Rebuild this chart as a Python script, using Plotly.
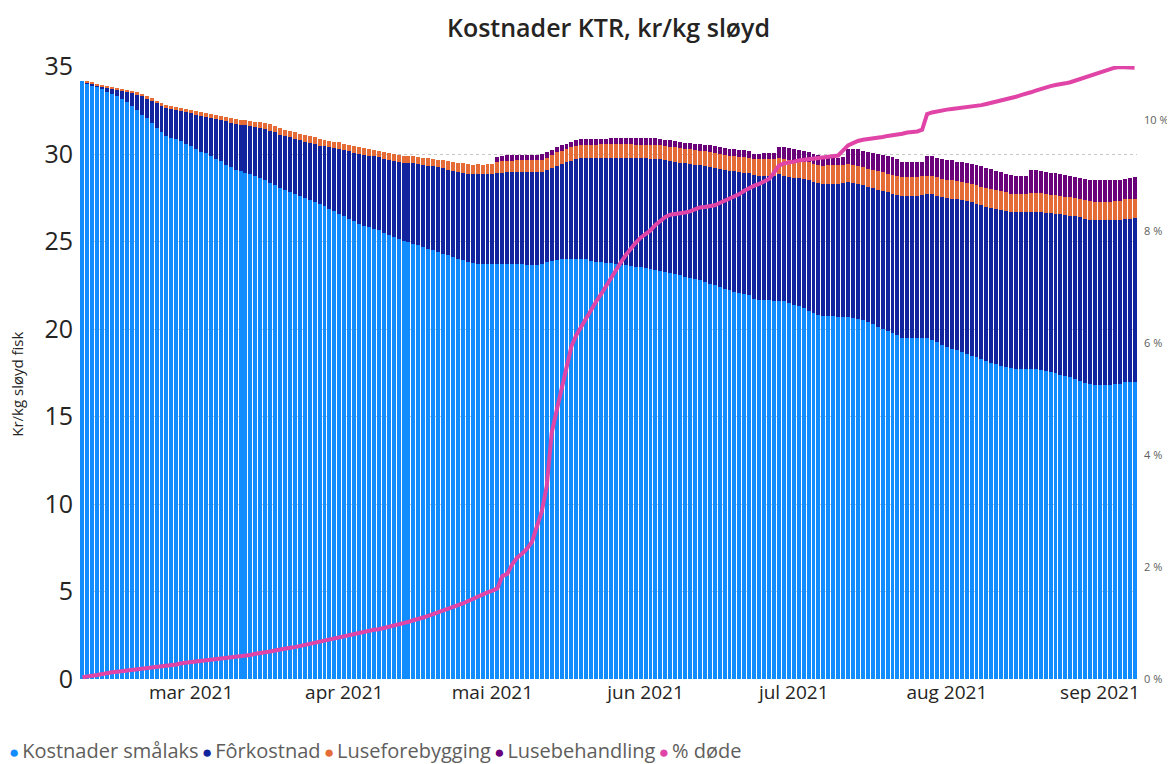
import pandas as pd
import plotly.graph_objects as go

start_date = "2021-02-07"
n_days = 214
dates = pd.date_range(start_date, periods=n_days, freq="D")

kostnader_smalaks = [
    34.20, 34.05, 33.95, 33.85, 33.70, 33.55, 33.45, 33.30, 33.15, 33.00,
    32.75, 32.50, 32.25, 32.05, 31.80, 31.50, 31.25, 31.05, 30.95, 30.85,
    30.75, 30.60, 30.45, 30.30, 30.15, 30.05, 29.90, 29.75, 29.60, 29.40,
    29.25, 29.10, 29.02, 28.95, 28.85, 28.75, 28.65, 28.50, 28.38, 28.22,
    28.05, 27.95, 27.85, 27.75, 27.63, 27.52, 27.40, 27.28, 27.16, 27.02,
    26.88, 26.74, 26.59, 26.45, 26.30, 26.16, 26.02, 25.92, 25.83, 25.74,
    25.64, 25.52, 25.40, 25.28, 25.16, 25.06, 24.97, 24.88, 24.78, 24.68,
    24.59, 24.50, 24.40, 24.30, 24.21, 24.12, 24.02, 23.93, 23.85, 23.77,
    23.72, 23.72, 23.71, 23.72, 23.74, 23.74, 23.73, 23.72, 23.70, 23.70,
    23.69, 23.68, 23.68, 23.70, 23.82, 23.92, 23.96, 24.00, 24.02, 24.03,
    24.02, 24.00, 23.98, 23.92, 23.86, 23.82, 23.80, 23.78, 23.74, 23.69,
    23.65, 23.61, 23.57, 23.54, 23.50, 23.45, 23.40, 23.35, 23.28, 23.21,
    23.14, 23.07, 23.00, 22.93, 22.86, 22.78, 22.68, 22.59, 22.50, 22.40,
    22.32, 22.23, 22.14, 22.06, 21.99, 21.93, 21.70, 21.65, 21.64, 21.64,
    21.63, 21.62, 21.58, 21.48, 21.39, 21.30, 21.18, 21.06, 20.92, 20.80,
    20.74, 20.73, 20.73, 20.72, 20.72, 20.70, 20.64, 20.59, 20.50, 20.41,
    20.27, 20.14, 20.02, 19.91, 19.78, 19.66, 19.52, 19.50, 19.50, 19.50,
    19.49, 19.48, 19.38, 19.27, 19.12, 18.98, 18.88, 18.79, 18.68, 18.57,
    18.47, 18.38, 18.28, 18.18, 18.09, 18.00, 17.90, 17.81, 17.75, 17.74,
    17.74, 17.74, 17.73, 17.72, 17.67, 17.61, 17.54, 17.47, 17.40, 17.32,
    17.24, 17.14, 17.04, 16.94, 16.85, 16.83, 16.83, 16.83, 16.83, 16.84,
    16.85, 16.97, 16.98, 16.99,
]

forkostnad = [
    0.00, 0.05, 0.07, 0.10, 0.18, 0.27, 0.31, 0.40, 0.48, 0.57,
    0.75, 0.90, 1.05, 1.13, 1.25, 1.40, 1.53, 1.61, 1.62, 1.65,
    1.69, 1.79, 1.88, 1.96, 2.04, 2.07, 2.16, 2.25, 2.34, 2.47,
    2.54, 2.64, 2.67, 2.69, 2.74, 2.79, 2.84, 2.92, 2.97, 3.03,
    3.05, 3.08, 3.12, 3.13, 3.17, 3.20, 3.24, 3.29, 3.33, 3.42,
    3.51, 3.60, 3.71, 3.78, 3.86, 3.93, 4.00, 4.05, 4.09, 4.13,
    4.18, 4.23, 4.28, 4.33, 4.38, 4.46, 4.52, 4.59, 4.66, 4.71,
    4.75, 4.80, 4.85, 4.89, 4.91, 4.94, 4.98, 5.01, 5.03, 5.10,
    5.15, 5.14, 5.16, 5.15, 5.16, 5.21, 5.24, 5.25, 5.28, 5.28,
    5.29, 5.30, 5.31, 5.30, 5.28, 5.30, 5.39, 5.45, 5.52, 5.60,
    5.70, 5.76, 5.79, 5.85, 5.92, 5.96, 5.99, 6.01, 6.05, 6.09,
    6.13, 6.17, 6.20, 6.23, 6.26, 6.30, 6.33, 6.35, 6.38, 6.41,
    6.43, 6.45, 6.48, 6.51, 6.54, 6.58, 6.65, 6.70, 6.73, 6.77,
    6.79, 6.83, 6.88, 6.92, 6.95, 6.97, 7.10, 7.13, 7.14, 7.13,
    7.15, 7.22, 7.20, 7.22, 7.26, 7.31, 7.39, 7.46, 7.50, 7.53,
    7.56, 7.57, 7.57, 7.59, 7.64, 7.70, 7.73, 7.73, 7.72, 7.71,
    7.77, 7.83, 7.88, 7.92, 7.97, 8.00, 8.11, 8.13, 8.13, 8.13,
    8.15, 8.25, 8.32, 8.35, 8.43, 8.52, 8.58, 8.62, 8.68, 8.73,
    8.77, 8.78, 8.80, 8.82, 8.85, 8.88, 8.92, 8.93, 8.94, 8.94,
    8.94, 8.94, 8.95, 8.96, 9.00, 9.03, 9.08, 9.13, 9.18, 9.22,
    9.25, 9.30, 9.35, 9.38, 9.39, 9.38, 9.38, 9.38, 9.38, 9.38,
    9.38, 9.32, 9.33, 9.34,
]

luseforebygging = [
    0.00, 0.03, 0.05, 0.06, 0.08, 0.09, 0.10, 0.11, 0.12, 0.12,
    0.13, 0.13, 0.14, 0.14, 0.15, 0.15, 0.16, 0.16, 0.17, 0.17,
    0.18, 0.18, 0.19, 0.20, 0.21, 0.22, 0.23, 0.24, 0.25, 0.26,
    0.27, 0.28, 0.29, 0.30, 0.31, 0.32, 0.33, 0.34, 0.35, 0.36,
    0.37, 0.37, 0.38, 0.38, 0.38, 0.38, 0.39, 0.39, 0.39, 0.39,
    0.38, 0.38, 0.38, 0.38, 0.38, 0.38, 0.38, 0.38, 0.38, 0.38,
    0.38, 0.39, 0.39, 0.39, 0.39, 0.40, 0.40, 0.40, 0.40, 0.41,
    0.42, 0.43, 0.44, 0.46, 0.48, 0.50, 0.52, 0.53, 0.53, 0.53,
    0.54, 0.54, 0.54, 0.55, 0.66, 0.66, 0.66, 0.66, 0.66, 0.66,
    0.66, 0.66, 0.66, 0.66, 0.68, 0.72, 0.75, 0.76, 0.76, 0.76,
    0.77, 0.77, 0.77, 0.77, 0.77, 0.78, 0.78, 0.78, 0.78, 0.78,
    0.78, 0.78, 0.78, 0.78, 0.79, 0.79, 0.79, 0.80, 0.80, 0.81,
    0.82, 0.83, 0.84, 0.85, 0.85, 0.85, 0.85, 0.85, 0.86, 0.86,
    0.86, 0.86, 0.87, 0.87, 0.88, 0.89, 0.93, 0.94, 0.95, 0.95,
    0.95, 0.96, 0.97, 0.98, 0.99, 1.00, 1.00, 1.01, 1.02, 1.04,
    1.05, 1.06, 1.06, 1.06, 1.04, 1.01, 1.00, 1.00, 1.02, 1.04,
    1.05, 1.06, 1.06, 1.06, 1.07, 1.08, 1.09, 1.09, 1.09, 1.09,
    1.09, 1.05, 1.05, 1.05, 1.05, 1.05, 1.05, 1.05, 1.05, 1.05,
    1.05, 1.05, 1.05, 1.06, 1.07, 1.08, 1.09, 1.07, 1.05, 1.05,
    1.05, 1.05, 1.09, 1.09, 1.09, 1.07, 1.06, 1.05, 1.04, 1.04,
    1.04, 1.04, 1.04, 1.05, 1.07, 1.08, 1.08, 1.08, 1.08, 1.08,
    1.10, 1.12, 1.13, 1.13,
]

lusebehandling = [
    0.00, 0.00, 0.00, 0.00, 0.00, 0.00, 0.00, 0.00, 0.00, 0.00,
    0.00, 0.00, 0.00, 0.00, 0.00, 0.00, 0.00, 0.00, 0.00, 0.00,
    0.00, 0.00, 0.00, 0.00, 0.00, 0.00, 0.00, 0.00, 0.00, 0.00,
    0.00, 0.00, 0.00, 0.00, 0.00, 0.00, 0.00, 0.00, 0.00, 0.00,
    0.00, 0.00, 0.00, 0.00, 0.00, 0.00, 0.00, 0.00, 0.00, 0.00,
    0.00, 0.00, 0.00, 0.00, 0.00, 0.00, 0.00, 0.00, 0.00, 0.00,
    0.00, 0.00, 0.00, 0.00, 0.00, 0.00, 0.00, 0.00, 0.00, 0.00,
    0.00, 0.00, 0.00, 0.00, 0.00, 0.00, 0.00, 0.00, 0.00, 0.00,
    0.00, 0.00, 0.00, 0.00, 0.30, 0.31, 0.33, 0.33, 0.33, 0.33,
    0.33, 0.33, 0.33, 0.33, 0.32, 0.31, 0.30, 0.30, 0.29, 0.30,
    0.31, 0.32, 0.32, 0.32, 0.32, 0.32, 0.32, 0.33, 0.34, 0.35,
    0.37, 0.38, 0.38, 0.38, 0.38, 0.38, 0.38, 0.38, 0.37, 0.37,
    0.36, 0.35, 0.34, 0.34, 0.35, 0.36, 0.37, 0.38, 0.38, 0.38,
    0.38, 0.38, 0.39, 0.40, 0.41, 0.41, 0.30, 0.30, 0.31, 0.32,
    0.32, 0.60, 0.66, 0.68, 0.66, 0.63, 0.60, 0.58, 0.58, 0.57,
    0.50, 0.46, 0.45, 0.44, 0.43, 0.90, 0.92, 0.95, 0.95, 0.95,
    0.97, 0.99, 0.99, 0.99, 1.00, 1.01, 0.86, 0.82, 0.82, 0.82,
    0.82, 1.14, 1.14, 1.14, 1.14, 1.13, 1.13, 1.12, 1.12, 1.13,
    1.14, 1.16, 1.18, 1.15, 1.12, 1.10, 1.08, 1.06, 1.05, 1.05,
    1.05, 1.05, 1.33, 1.31, 1.29, 1.28, 1.27, 1.26, 1.25, 1.24,
    1.22, 1.21, 1.20, 1.21, 1.21, 1.21, 1.21, 1.21, 1.21, 1.21,
    1.19, 1.15, 1.20, 1.24,
]

prosent_dode = [
    0.03, 0.05, 0.06, 0.07, 0.09, 0.10, 0.12, 0.13, 0.14, 0.15,
    0.16, 0.17, 0.18, 0.19, 0.20, 0.21, 0.22, 0.24, 0.25, 0.26,
    0.28, 0.29, 0.31, 0.32, 0.33, 0.34, 0.35, 0.36, 0.36, 0.37,
    0.38, 0.39, 0.40, 0.42, 0.43, 0.45, 0.46, 0.48, 0.49, 0.51,
    0.53, 0.54, 0.56, 0.57, 0.59, 0.61, 0.62, 0.64, 0.66, 0.68,
    0.70, 0.72, 0.74, 0.76, 0.78, 0.80, 0.82, 0.84, 0.86, 0.88,
    0.89, 0.91, 0.93, 0.96, 0.98, 1.00, 1.02, 1.05, 1.07, 1.10,
    1.13, 1.16, 1.19, 1.22, 1.25, 1.28, 1.31, 1.35, 1.39, 1.43,
    1.48, 1.52, 1.55, 1.58, 1.62, 1.84, 1.88, 2.05, 2.17, 2.24,
    2.33, 2.45, 2.70, 3.00, 3.45, 4.40, 4.80, 5.20, 5.60, 5.95,
    6.15, 6.30, 6.45, 6.62, 6.75, 6.88, 7.03, 7.17, 7.31, 7.45,
    7.58, 7.70, 7.80, 7.89, 7.96, 8.02, 8.12, 8.20, 8.26, 8.30,
    8.31, 8.32, 8.34, 8.36, 8.39, 8.43, 8.44, 8.45, 8.47, 8.51,
    8.55, 8.58, 8.62, 8.67, 8.73, 8.78, 8.82, 8.85, 8.89, 8.94,
    9.05, 9.18, 9.22, 9.23, 9.25, 9.27, 9.28, 9.29, 9.30, 9.32,
    9.33, 9.34, 9.35, 9.36, 9.45, 9.54, 9.58, 9.62, 9.64, 9.65,
    9.66, 9.68, 9.69, 9.71, 9.72, 9.74, 9.75, 9.77, 9.78, 9.79,
    9.82, 10.10, 10.13, 10.15, 10.16, 10.18, 10.19, 10.20, 10.21, 10.22,
    10.23, 10.24, 10.26, 10.28, 10.30, 10.32, 10.35, 10.37, 10.39, 10.41,
    10.44, 10.46, 10.49, 10.52, 10.55, 10.58, 10.60, 10.62, 10.63, 10.65,
    10.67, 10.70, 10.73, 10.76, 10.79, 10.82, 10.85, 10.87, 10.90, 10.93,
    10.94, 10.94, 10.93, 10.93,
]

month_ticks = ["2021-03-01", "2021-04-01", "2021-05-01", "2021-06-01",
               "2021-07-01", "2021-08-01", "2021-09-01"]
month_labels = ["mar 2021", "apr 2021", "mai 2021", "jun 2021",
                "jul 2021", "aug 2021", "sep 2021"]
left_ticks = [0, 5, 10, 15, 20, 25, 30, 35]
right_ticks = [0, 2, 4, 6, 8, 10]
right_labels = ["0 %", "2 %", "4 %", "6 %", "8 %", "10 %"]

series_names = ["Kostnader smålaks", "Fôrkostnad", "Luseforebygging", "Lusebehandling", "% døde"]
colors = ["#118DFF", "#12239E", "#E66C37", "#6B007B", "#E044A7"]

FONT = "Segoe UI, Open Sans, Noto Sans, sans-serif"

# page body has an 8px default margin; figure sized to fit the 1175x764 window
W, H = 1167, 756
L, R, T, B = 72, 38, 58, 85
PW, PH = W - L - R, H - T - B

fig = go.Figure()
bar_data = [kostnader_smalaks, forkostnad, luseforebygging, lusebehandling]
for name, vals, col in zip(series_names[:4], bar_data, colors[:4]):
    fig.add_trace(go.Bar(x=dates, y=vals, name=name, marker=dict(color=col, line=dict(width=0)),
                         showlegend=False))

fig.add_trace(go.Scatter(x=dates, y=prosent_dode, name=series_names[4], mode="lines",
                         line=dict(color=colors[4], width=4), yaxis="y2", showlegend=False))

sep = "<span style='font-size:13px'>&nbsp;</span>"
gap = "<span style='font-size:11px'>&nbsp;</span>"
legend_html = sep.join(
    f"<span style='color:{c};font-size:17px'>●</span>{gap}"
    f"<span style='color:#605E5C'>{n}</span>"
    for n, c in zip(series_names, colors)
)

fig.update_layout(
    width=W, height=H,
    margin=dict(l=L, r=R, t=T, b=B, autoexpand=False),
    paper_bgcolor="white", plot_bgcolor="white",
    barmode="stack", bargap=0.2,
    font=dict(family=FONT, color="#252423"),
    title=dict(text="Kostnader KTR, kr/kg sløyd", x=0.5, xref="paper", xanchor="center",
               y=1 - 20 / H, yanchor="middle",
               font=dict(size=25, color="#252423", family=FONT, weight=600)),
    xaxis=dict(type="date", range=["2021-02-06 12:00", "2021-09-08 12:00"], automargin=False,
               tickvals=month_ticks, ticktext=month_labels, tickfont=dict(size=19, color="#252423"),
               showgrid=False, showline=False, zeroline=False, ticks=""),
    yaxis=dict(range=[0, 35.04], tickvals=left_ticks, tickfont=dict(size=25, color="#252423"),
               showgrid=True, gridcolor="#C8C6C4", griddash="dot", gridwidth=1, automargin=False,
               zeroline=False, showline=False, ticks="", ticklabelstandoff=6),
    yaxis2=dict(overlaying="y", side="right", range=[0, 10.96], tickvals=right_ticks,
                ticktext=right_labels, tickfont=dict(size=11, color="#605E5C"), automargin=False,
                showgrid=False, zeroline=False, showline=False, ticks="", ticklabelstandoff=6),
    annotations=[
        dict(text="Kr/kg sløyd fisk", textangle=-90, xref="paper", yref="paper",
             x=(9 - L) / PW, y=0.48, xanchor="center", yanchor="middle", showarrow=False,
             font=dict(size=15, color="#252423", family=FONT)),
        dict(text=legend_html, xref="paper", yref="paper", x=(-1 - L) / PW, y=(H - B - 742) / PH,
             xanchor="left", yanchor="middle", showarrow=False, align="left",
             font=dict(size=20, color="#605E5C", family=FONT)),
    ],
)

fig.write_html("out.html")
